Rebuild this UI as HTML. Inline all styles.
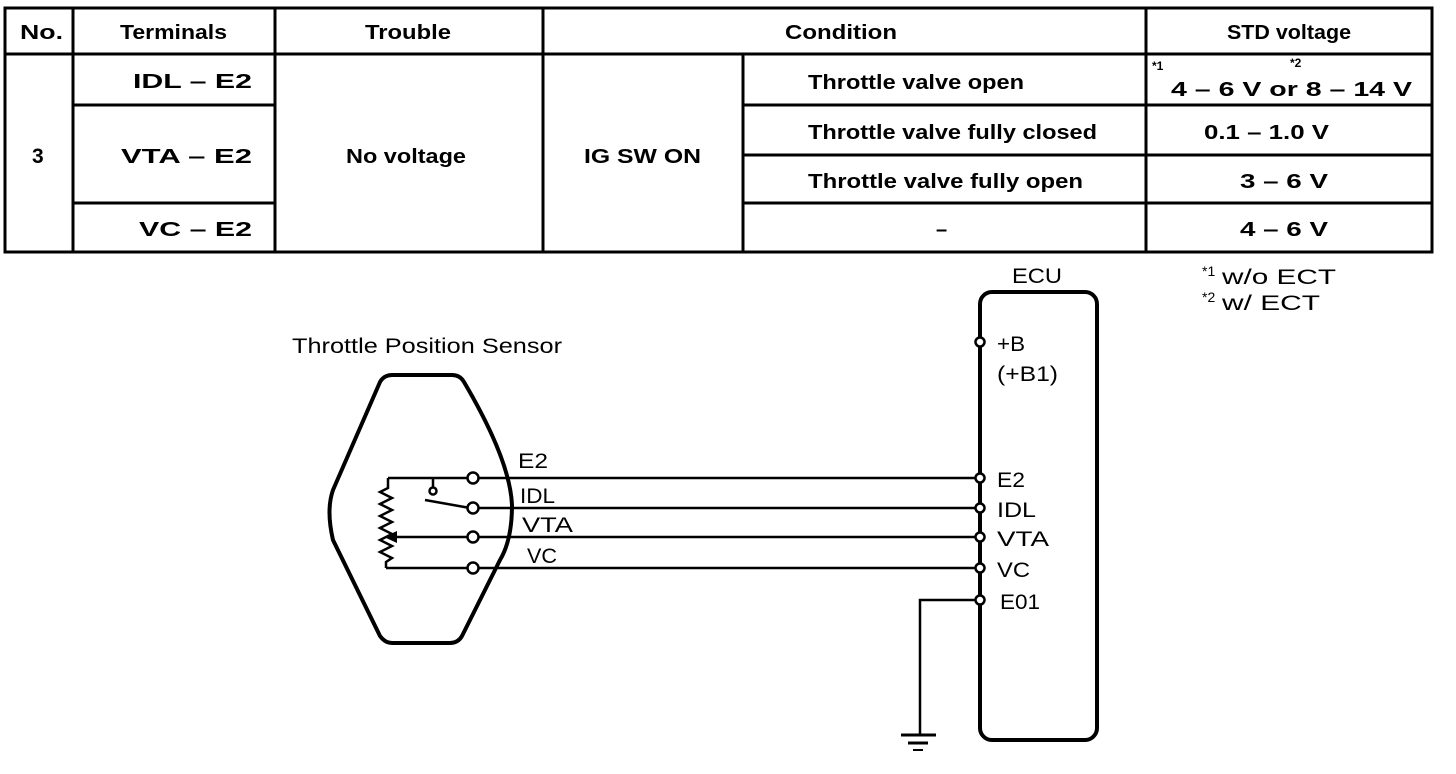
<!DOCTYPE html>
<html><head><meta charset="utf-8"><style>
html,body{margin:0;padding:0;background:#fff;}
svg{display:block;}
.b{font-family:"Liberation Sans",sans-serif;font-weight:bold;font-size:20px;fill:#000;}
.r{font-family:"Liberation Sans",sans-serif;font-size:21px;fill:#000;}
</style></head><body>
<svg width="1456" height="774" viewBox="0 0 1456 774" xmlns="http://www.w3.org/2000/svg">
<g stroke="#000" stroke-width="3" fill="none">
<rect x="5" y="8" width="1427" height="244"/>
<line x1="5" y1="54" x2="1432" y2="54"/>
<line x1="73" y1="8" x2="73" y2="252"/>
<line x1="275" y1="8" x2="275" y2="252"/>
<line x1="543" y1="8" x2="543" y2="252"/>
<line x1="743" y1="54" x2="743" y2="252"/>
<line x1="1146" y1="8" x2="1146" y2="252"/>
<line x1="73" y1="105" x2="275" y2="105"/>
<line x1="73" y1="203" x2="275" y2="203"/>
<line x1="743" y1="105" x2="1432" y2="105"/>
<line x1="743" y1="155" x2="1432" y2="155"/>
<line x1="743" y1="203" x2="1432" y2="203"/>
</g>
<g class="b">
<text x="20" y="39" textLength="43" lengthAdjust="spacingAndGlyphs">No.</text>
<text x="120" y="39" textLength="107" lengthAdjust="spacingAndGlyphs">Terminals</text>
<text x="365" y="39" textLength="86" lengthAdjust="spacingAndGlyphs">Trouble</text>
<text x="785" y="39" textLength="112" lengthAdjust="spacingAndGlyphs">Condition</text>
<text x="1227" y="39" textLength="124" lengthAdjust="spacingAndGlyphs">STD voltage</text>
<text x="32" y="163" style="font-size:21px">3</text>
<text x="346" y="163" textLength="120" lengthAdjust="spacingAndGlyphs">No voltage</text>
<text x="584" y="163" textLength="117" lengthAdjust="spacingAndGlyphs">IG SW ON</text>
<text x="133" y="88" textLength="119" lengthAdjust="spacingAndGlyphs">IDL – E2</text>
<text x="121" y="163" textLength="131" lengthAdjust="spacingAndGlyphs">VTA – E2</text>
<text x="139" y="236" textLength="113" lengthAdjust="spacingAndGlyphs">VC – E2</text>
<text x="808" y="89" textLength="216" lengthAdjust="spacingAndGlyphs">Throttle valve open</text>
<text x="808" y="139" textLength="289" lengthAdjust="spacingAndGlyphs">Throttle valve fully closed</text>
<text x="808" y="188" textLength="275" lengthAdjust="spacingAndGlyphs">Throttle valve fully open</text>
<text x="936" y="236">–</text>
<text x="1171" y="96" textLength="241" lengthAdjust="spacingAndGlyphs">4 – 6 V or  8 – 14 V</text>
<text x="1204" y="139" textLength="125" lengthAdjust="spacingAndGlyphs">0.1 – 1.0 V</text>
<text x="1240" y="188" textLength="88" lengthAdjust="spacingAndGlyphs">3 – 6 V</text>
<text x="1240" y="236" textLength="88" lengthAdjust="spacingAndGlyphs">4 – 6 V</text>
<text x="1152" y="70" style="font-size:12px">*1</text>
<text x="1290" y="67" style="font-size:12px">*2</text>
</g>
<g stroke="#000" stroke-width="4" fill="none" stroke-linejoin="round">
<path d="M392,375 L452,375 Q460,375 464,382 Q510,460 512,505 Q512,540 500,560 L462,636 Q458,643 450,643 L392,643 Q385,643 380,636 L333,540 Q326,510 333,490 L380,382 Q384,375 392,375 Z"/>
<rect x="980" y="292" width="117" height="448" rx="12"/>
</g>
<g stroke="#000" stroke-width="2.5" fill="none">
<line x1="388" y1="478" x2="980" y2="478"/>
<line x1="478" y1="508" x2="980" y2="508"/>
<line x1="390" y1="537" x2="980" y2="537"/>
<line x1="386" y1="568" x2="980" y2="568"/>
<polyline points="388,478 388,488 380,492 392,498 380,504 392,510 380,516 392,522 380,528 392,534 380,540 392,546 380,552 392,558 386,562 386,568"/>
<line x1="433" y1="478" x2="433" y2="488"/>
<line x1="425" y1="500" x2="470" y2="508"/>
<polyline points="980,600 920,600 920,735"/>
<line x1="901" y1="735" x2="936" y2="735" stroke-width="3"/>
<line x1="908" y1="743" x2="928" y2="743" stroke-width="3"/>
<line x1="913" y1="750" x2="923" y2="750" stroke-width="2"/>
</g>
<polygon points="384,537 397,531 397,543" fill="#000"/>
<g stroke="#000" stroke-width="2.5" fill="#fff">
<circle cx="433" cy="491" r="3.5"/>
<circle cx="473" cy="478" r="5.5"/>
<circle cx="473" cy="508" r="5.5"/>
<circle cx="473" cy="537" r="5.5"/>
<circle cx="473" cy="568" r="5.5"/>
<circle cx="980" cy="342" r="4.5"/>
<circle cx="980" cy="478" r="4.5"/>
<circle cx="980" cy="508" r="4.5"/>
<circle cx="980" cy="537" r="4.5"/>
<circle cx="980" cy="568" r="4.5"/>
<circle cx="980" cy="600" r="4.5"/>
</g>
<g class="r">
<text x="292" y="353" textLength="270" lengthAdjust="spacingAndGlyphs">Throttle Position Sensor</text>
<text x="1012" y="283" textLength="50" lengthAdjust="spacingAndGlyphs">ECU</text>
<text x="1222" y="284" textLength="114" lengthAdjust="spacingAndGlyphs">w/o ECT</text>
<text x="1202" y="276" style="font-size:14px">*1</text>
<text x="1222" y="310" textLength="98" lengthAdjust="spacingAndGlyphs">w/ ECT</text>
<text x="1202" y="302" style="font-size:14px">*2</text>
<text x="518" y="468" textLength="30" lengthAdjust="spacingAndGlyphs">E2</text>
<text x="520" y="503" textLength="35" lengthAdjust="spacingAndGlyphs">IDL</text>
<text x="522" y="532" textLength="51" lengthAdjust="spacingAndGlyphs">VTA</text>
<text x="527" y="563" textLength="30" lengthAdjust="spacingAndGlyphs">VC</text>
<text x="997" y="351" textLength="28" lengthAdjust="spacingAndGlyphs">+B</text>
<text x="997" y="381" textLength="61" lengthAdjust="spacingAndGlyphs">(+B1)</text>
<text x="997" y="487" textLength="28" lengthAdjust="spacingAndGlyphs">E2</text>
<text x="997" y="517" textLength="39" lengthAdjust="spacingAndGlyphs">IDL</text>
<text x="997" y="546" textLength="52" lengthAdjust="spacingAndGlyphs">VTA</text>
<text x="997" y="577" textLength="33" lengthAdjust="spacingAndGlyphs">VC</text>
<text x="1000" y="609" textLength="40" lengthAdjust="spacingAndGlyphs">E01</text>
</g>
</svg>
</body></html>
